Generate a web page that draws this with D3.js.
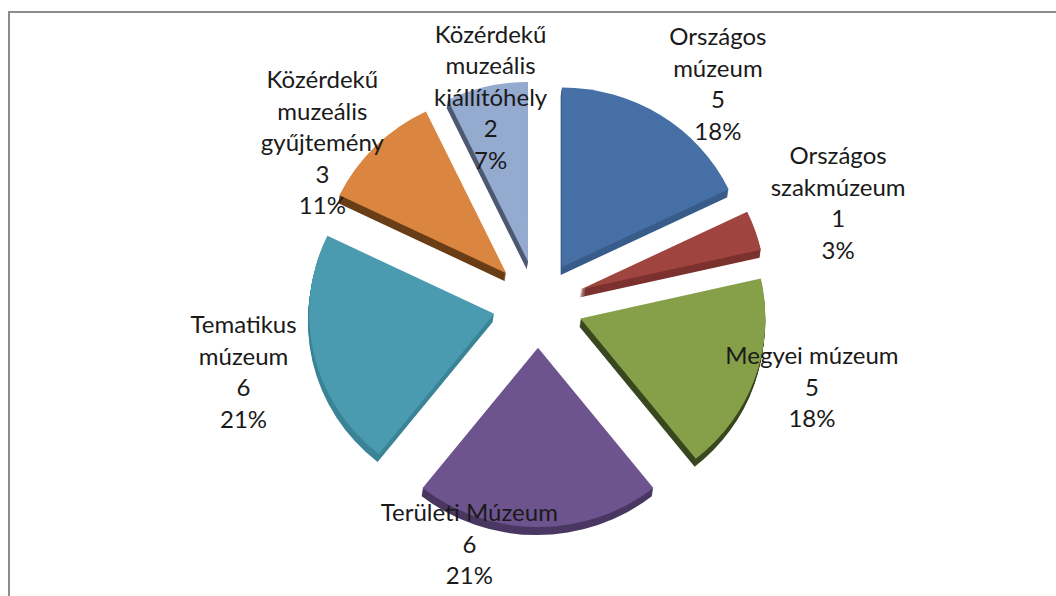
<!DOCTYPE html>
<html>
<head>
<meta charset="utf-8">
<script src="https://cdn.jsdelivr.net/npm/d3@7/dist/d3.min.js"></script>
<style>
  html, body { margin: 0; padding: 0; background: #fff; }
  svg { display: block; }
</style>
</head>
<body>
<div id="chart"></div>
<script>
// slice data, clockwise from 12 o'clock
const categories = [
  'Országos múzeum',
  'Országos szakmúzeum',
  'Megyei múzeum',
  'Területi Múzeum',
  'Tematikus múzeum',
  'Közérdekű muzeális gyűjtemény',
  'Közérdekű muzeális kiállítóhely'
];
const values = [5, 1, 5, 6, 6, 3, 2];
const percentLabels = ['18%', '3%', '18%', '21%', '21%', '11%', '7%'];
// how the category names wrap in the labels
const nameLines = [
  ['Országos', 'múzeum'],
  ['Országos', 'szakmúzeum'],
  ['Megyei múzeum'],
  ['Területi Múzeum'],
  ['Tematikus', 'múzeum'],
  ['Közérdekű', 'muzeális', 'gyűjtemény'],
  ['Közérdekű', 'muzeális', 'kiállítóhely']
];

const topColors = ['#4670a5', '#a0443f', '#86a04a', '#6d548e', '#4a9bb0', '#da8640', '#94aacf'];
const sideColors = ['#395d8a', '#7c322f', '#3a4820', '#4a3862', '#3b8497', '#6a3e17', '#4d5a72'];

const width = 1056, height = 596;
const cx = 538, cy = 304;
const radius = 185;
const tilt = 0.97;       // slight 3D tilt: vertical squash
const explode = 45;      // distance every slice is pulled out
const depth = 8;         // slice thickness
const lineH = 31.5;

// label placement: distance from centre and angle nudge (deg) per slice
const labelDist = [285, 317, 286, 249, 302, 270, 213];
const labelTurn = [7, 0.5, -2.6, 16, 0, -8, 0];

const svg = d3.select('#chart').append('svg')
  .attr('width', width)
  .attr('height', height);

// chart frame
svg.append('path')
  .attr('d', `M9,${height} V12 H${width}`)
  .attr('fill', 'none')
  .attr('stroke', '#8c8c8c')
  .attr('stroke-width', 2);

const pie = d3.pie().sort(null).value(d => d)(values);
const arc = d3.arc().innerRadius(0).outerRadius(radius);

const offsetOf = d => {
  const a = (d.startAngle + d.endAngle) / 2;
  return [explode * Math.sin(a), -explode * Math.cos(a) * tilt];
};

const g = svg.append('g');

// sides: stack of shifted copies below each slice
pie.forEach((d, i) => {
  const [ox, oy] = offsetOf(d);
  for (let k = depth; k >= 1; k--) {
    g.append('path')
      .attr('d', arc(d))
      .attr('transform', `translate(${cx + ox - k * 0.15},${cy + oy + k}) scale(1,${tilt})`)
      .attr('fill', sideColors[i]);
  }
});

// tops
pie.forEach((d, i) => {
  const [ox, oy] = offsetOf(d);
  g.append('path')
    .attr('d', arc(d))
    .attr('transform', `translate(${cx + ox},${cy + oy}) scale(1,${tilt})`)
    .attr('fill', topColors[i]);
});

// data labels: name, value, percent
const labels = svg.append('g')
  .attr('font-family', 'Lato, "Open Sans", sans-serif')
  .attr('font-size', 24)
  .attr('fill', '#1a1a1a')
  .attr('text-anchor', 'middle');

pie.forEach((d, i) => {
  const a = (d.startAngle + d.endAngle) / 2 + labelTurn[i] * Math.PI / 180;
  const lx = cx + labelDist[i] * Math.sin(a);
  const ly = cy - labelDist[i] * Math.cos(a);
  const lines = nameLines[i].concat([String(values[i]), percentLabels[i]]);
  const t = labels.append('text');
  lines.forEach((s, j) => {
    t.append('tspan')
      .attr('x', lx)
      .attr('y', ly + (j - (lines.length - 1) / 2) * lineH)
      .attr('dominant-baseline', 'central')
      .text(s);
  });
});
</script>
</body>
</html>
